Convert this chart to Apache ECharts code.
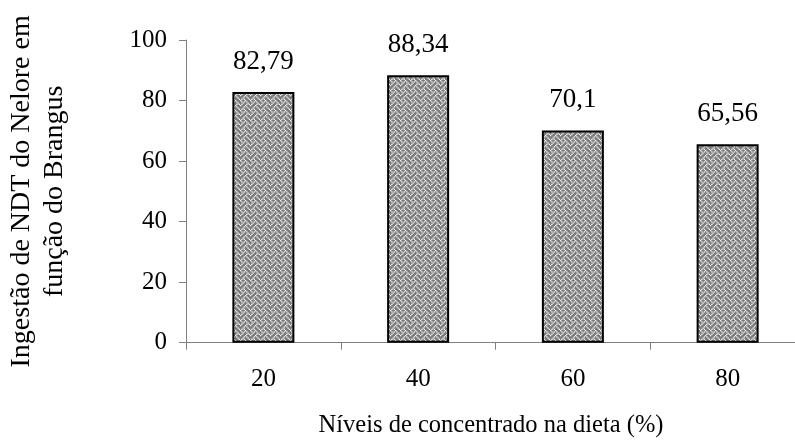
<!DOCTYPE html>
<html>
<head>
<meta charset="utf-8">
<script src="https://cdn.jsdelivr.net/npm/echarts@6/dist/echarts.min.js"></script>
<style>
html,body{margin:0;padding:0;background:#fff;}
#chart{width:795px;height:443px;}
</style>
</head>
<body>
<div id="chart"></div>
<script>
const categories = ['20', '40', '60', '80'];
const values = [82.79, 88.34, 70.1, 65.56];
const yTitle = 'Ingestão de NDT do Nelore em\nfunção do Brangus';
const xTitle = 'Níveis de concentrado na dieta (%)';

const FONT = "'Liberation Serif', 'Times New Roman', serif";

function makePattern() {
  const c = document.createElement('canvas');
  c.width = 10; c.height = 10;
  const ctx = c.getContext('2d');
  ctx.fillStyle = '#7a7a7a';
  ctx.fillRect(0, 0, 10, 10);
  ctx.fillStyle = '#ffffff';
  const bits = [0x88, 0x54, 0x22, 0x45, 0x88, 0x14, 0x22, 0x51];
  ctx.scale(1.25, 1.25);
  for (let y = 0; y < 8; y++) {
    for (let x = 0; x < 8; x++) {
      if ((bits[y] >> (7 - x)) & 1) ctx.fillRect(x, y, 1, 1);
    }
  }
  return c;
}

const chart = echarts.init(document.getElementById('chart'), null, {renderer: 'canvas'});
chart.setOption({
  animation: false,
  backgroundColor: '#fff',
  grid: {left: 186, width: 619, top: 40, bottom: 100.3, containLabel: false, outerBoundsMode: 'none'},
  xAxis: {
    type: 'category',
    data: categories,
    boundaryGap: true,
    name: xTitle,
    nameLocation: 'middle',
    nameGap: 70,
    nameTextStyle: {fontFamily: FONT, fontSize: 24.5, color: '#000', padding: [0, 9, 0, 0]},
    axisLine: {lineStyle: {color: '#808080', width: 1}},
    axisTick: {show: true, length: 7, lineStyle: {color: '#808080'}},
    axisLabel: {fontFamily: FONT, fontSize: 25, color: '#000', margin: 24}
  },
  yAxis: {
    type: 'value',
    min: 0, max: 100, interval: 20,
    name: yTitle,
    nameLocation: 'middle',
    nameRotate: 90,
    nameGap: 115,
    nameTextStyle: {fontFamily: FONT, fontSize: 28, lineHeight: 33, color: '#000', align: 'center'},
    splitLine: {show: false},
    axisLine: {show: true, lineStyle: {color: '#808080', width: 1}},
    axisTick: {show: true, length: 7, lineStyle: {color: '#808080'}},
    axisLabel: {fontFamily: FONT, fontSize: 25, color: '#000', margin: 19}
  },
  series: [{
    type: 'bar',
    data: values,
    barWidth: 62,
    itemStyle: {
      color: {image: makePattern(), repeat: 'repeat'},
      borderColor: '#000',
      borderWidth: 2
    },
    label: {
      show: true,
      position: 'top',
      distance: 17,
      fontFamily: FONT,
      fontSize: 27,
      color: '#000',
      formatter: p => String(p.value).replace('.', ',')
    }
  }]
});
</script>
</body>
</html>
